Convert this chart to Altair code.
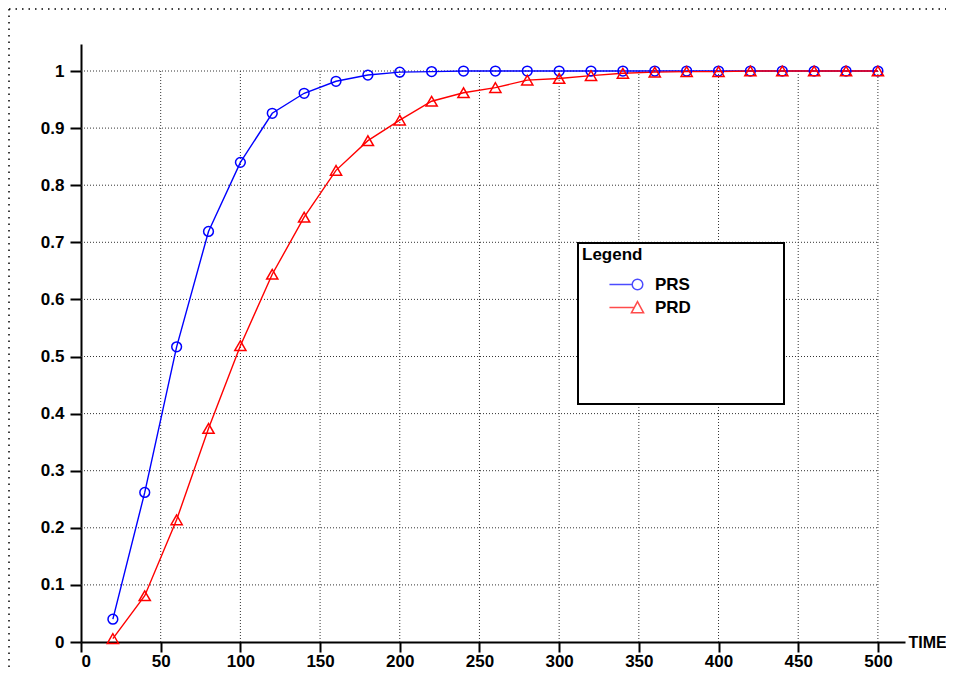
import altair as alt
import pandas as pd

# ---- data ----
times = [20, 40, 60, 80, 100, 120, 140, 160, 180, 200, 220, 240, 260,
         280, 300, 320, 340, 360, 380, 400, 420, 440, 460, 480, 500]
prs = [0.040, 0.262, 0.517, 0.719, 0.840, 0.926, 0.961, 0.982, 0.993, 0.998,
       0.999, 1.0, 1.0, 1.0, 1.0, 1.0, 1.0, 1.0, 1.0, 1.0, 1.0, 1.0, 1.0, 1.0, 1.0]
prd = [0.006, 0.081, 0.214, 0.374, 0.519, 0.644, 0.744, 0.826, 0.878, 0.914,
       0.947, 0.962, 0.971, 0.984, 0.987, 0.992, 0.996, 0.998, 0.999, 0.999,
       1.0, 1.0, 1.0, 1.0, 1.0]
series_names = ["PRS", "PRD"]
series_colors = ["#0000ff", "#ff0000"]
series_shapes = ["circle", "triangle-up"]
series_sizes = [95, 125]
x_ticks = [0, 50, 100, 150, 200, 250, 300, 350, 400, 450, 500]
y_ticks = [0, 0.1, 0.2, 0.3, 0.4, 0.5, 0.6, 0.7, 0.8, 0.9, 1.0]

W, H = 824, 598
X_MAX = 517
Y_MAX = 1.0473
FONT = "Liberation Sans"

df = pd.DataFrame({
    "TIME": times + times,
    "value": prs + prd,
    "series": ["PRS"] * len(times) + ["PRD"] * len(times),
})

xscale = alt.Scale(domain=[0, X_MAX], nice=False, zero=False)
yscale = alt.Scale(domain=[0, Y_MAX], nice=False)
xaxis = alt.Axis(values=x_ticks, title="TIME", titleX=W + 3, titleY=0,
                 titleAlign="left", titleBaseline="middle", titleAngle=0,
                 labelPadding=1, tickSize=10, format="d")
yaxis = alt.Axis(values=y_ticks, title="", labelPadding=6, format="~g")

# grid tables built from the tick lists
gv = pd.DataFrame({"gx": x_ticks[1:], "gy0": [y_ticks[0]] * (len(x_ticks) - 1),
                   "gy1": [y_ticks[-1]] * (len(x_ticks) - 1)})
gh = pd.DataFrame({"gy": y_ticks[1:], "gx0": [x_ticks[0]] * (len(y_ticks) - 1),
                   "gx1": [x_ticks[-1]] * (len(y_ticks) - 1)})

grid_style = dict(color="#333333", strokeDash=[1, 2], strokeWidth=1)
grid_v = alt.Chart(gv).mark_rule(**grid_style).encode(
    x=alt.X("gx:Q", scale=xscale, axis=xaxis),
    y=alt.Y("gy0:Q", scale=yscale, axis=yaxis),
    y2="gy1:Q",
)
grid_h = alt.Chart(gh).mark_rule(**grid_style).encode(
    y=alt.Y("gy:Q", scale=yscale, axis=yaxis),
    x=alt.X("gx0:Q", scale=xscale, axis=xaxis),
    x2="gx1:Q",
)

color_plain = alt.Scale(domain=series_names, range=series_colors)

lines = alt.Chart(df).mark_line(strokeWidth=1.4).encode(
    x=alt.X("TIME:Q", scale=xscale, axis=xaxis),
    y=alt.Y("value:Q", scale=yscale, axis=yaxis),
    color=alt.Color("series:N", scale=color_plain, legend=None),
    detail="series:N",
)
points = alt.Chart(df).mark_point(filled=False, strokeWidth=1.5, opacity=1).encode(
    x=alt.X("TIME:Q", scale=xscale, axis=xaxis),
    y=alt.Y("value:Q", scale=yscale, axis=yaxis),
    color=alt.Color("series:N", scale=color_plain, legend=None),
    shape=alt.Shape("series:N", scale=alt.Scale(domain=series_names, range=series_shapes), legend=None),
    size=alt.Size("series:N", scale=alt.Scale(domain=series_names, range=series_sizes), legend=None),
)

# legend: line + marker symbols, with blank rows to give the framed box its size
blank_keys = ["\u2800" * 5 + "\u00a0" + "\u2800" * 5, "\u2800" * 10]
legend_keys = series_names + blank_keys
legend_colors = series_colors + ["transparent"] * len(blank_keys)
prs_symbol = "M-5.3,0L-1,0M-1,0A1,1,0,1,1,1,0A1,1,0,1,1,-1,0Z"
prd_symbol = "M-5.3,0L-0.58,0M0,-1.1L1.15,1L-1.15,1Z"
legend_shapes = [prs_symbol, prd_symbol] + ["circle"] * len(blank_keys)
leg = alt.Legend(title="Legend", orient="none", legendX=497, legendY=199,
                 titleAnchor="start", titlePadding=12, rowPadding=5,
                 symbolSize=112, symbolStrokeWidth=1.5,
                 symbolOffset=47, labelOffset=9, padding=4, labelLimit=400,
                 labelExpr="indexof(['PRS', 'PRD'], datum.label) >= 0 ? datum.label : [datum.label, '\u2800']",
                 strokeColor="black")
legend_layer = alt.Chart(df).transform_filter("false").mark_point(
    filled=False, strokeWidth=1.5).encode(
    x=alt.X("TIME:Q", scale=xscale, axis=xaxis),
    y=alt.Y("value:Q", scale=yscale, axis=yaxis),
    color=alt.Color("series:N", scale=alt.Scale(domain=legend_keys, range=legend_colors), legend=leg),
    shape=alt.Shape("series:N", scale=alt.Scale(domain=legend_keys, range=legend_shapes), legend=leg),
)

# dotted outer frame (top and left)
frame_df = pd.DataFrame({"k": [0]})
frame_style = dict(color="black", strokeDash=[1.5, 5], strokeWidth=1.5)
frame_top = alt.Chart(frame_df).mark_rule(**frame_style).encode(
    x=alt.value(-72), x2=alt.value(W + 41), y=alt.value(-35))
frame_left = alt.Chart(frame_df).mark_rule(**frame_style).encode(
    x=alt.value(-72), y=alt.value(-35), y2=alt.value(H + 29))

chart = alt.layer(
    grid_v, grid_h, lines, points, legend_layer, frame_top, frame_left
).resolve_scale(
    color="independent", shape="independent", size="independent"
).properties(
    width=W, height=H,
    padding={"left": 73, "top": 36, "right": 41, "bottom": 29},
    autosize=alt.AutoSizeParams(type="none"),
).configure_view(
    strokeWidth=0
).configure_axis(
    grid=False,
    domainColor="black", domainWidth=2,
    tickColor="black", tickWidth=2, tickSize=11,
    labelFont=FONT, labelFontSize=17, labelFontWeight="bold", labelColor="black",
    titleFont=FONT, titleFontSize=16, titleFontWeight="bold", titleColor="black",
    zindex=1,
).configure_legend(
    titleFont=FONT, titleFontSize=17, titleFontWeight="bold", titleColor="black",
    labelFont=FONT, labelFontSize=17, labelFontWeight="bold", labelColor="black",
    strokeWidth=2, fillColor="white",
)

chart.save("out.html", embed_options={"renderer": "svg", "actions": False})
